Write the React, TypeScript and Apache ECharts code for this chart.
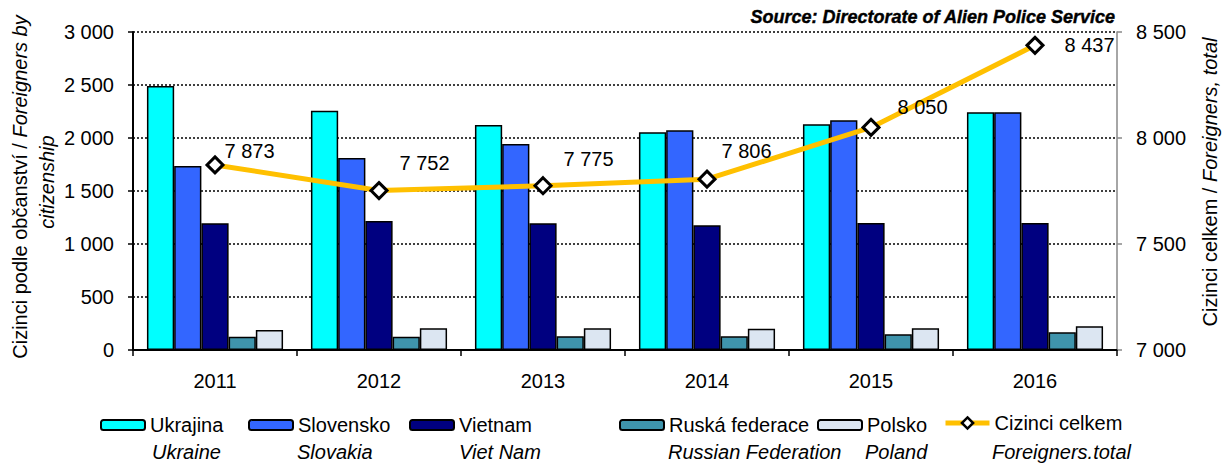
import React, { useEffect, useRef } from "react";
import * as echarts from "echarts";

const years = ["2011", "2012", "2013", "2014", "2015", "2016"];
const ukrajina = [2491, 2258, 2123, 2054, 2129, 2242];
const slovensko = [1736, 1811, 1943, 2073, 2167, 2242];
const vietnam = [1195, 1217, 1195, 1176, 1198, 1198];
const ruska = [126, 126, 130, 129, 148, 167];
const polsko = [189, 205, 205, 201, 205, 224];
const celkem = [7873, 7752, 7775, 7806, 8050, 8437];

const seriesNames = ["Ukrajina", "Slovensko", "Vietnam", "Ruská federace", "Polsko", "Cizinci celkem"];
const seriesNamesEn = ["Ukraine", "Slovakia", "Viet Nam", "Russian Federation", "Poland", "Foreigners.total"];
const leftTicks = [0, 500, 1000, 1500, 2000, 2500, 3000];
const rightTicks = [7000, 7500, 8000, 8500];

// styles / layout (not data)
const barColors = ["#00FFFF", "#3366FF", "#000080", "#3F94AC", "#DCE6F2"];
const lineColor = "#FFC000";
const labelOffsets = [
  [-5, -14],
  [6, -28],
  [6, -27],
  [0, -28],
  [12, -20],
  [15, 0],
];
const legendIconX = [100, 248, 409, 619, 817, 943];
const legendTextX = [152, 297, 459, 668, 865, 992];

const FONT = "Liberation Sans, Arial, sans-serif";
const FS = 20;

const fmt = (v: number) => {
  const s = String(Math.round(v));
  return s.replace(/\B(?=(\d{3})+(?!\d))/g, " ");
};

export default function App() {
  const ref = useRef<HTMLDivElement>(null);
  useEffect(() => {
    if (!ref.current) return;
    const chart = echarts.init(ref.current, null, { renderer: "svg" });
    const barData = [ukrajina, slovensko, vietnam, ruska, polsko];

    const barSeries = barData.map((d, i) => ({
      name: seriesNames[i],
      type: "bar",
      yAxisIndex: 0,
      data: d,
      barGap: "0%",
      barCategoryGap: "17%",
      itemStyle: { color: barColors[i], borderColor: "#000", borderWidth: 1.5 },
    }));

    const lineSeries = {
      name: seriesNames[5],
      type: "line",
      yAxisIndex: 1,
      data: celkem.map((v, i) => ({
        value: v,
        label: { offset: labelOffsets[i] },
      })),
      z: 5,
      symbol: "diamond",
      symbolSize: 16,
      lineStyle: { color: lineColor, width: 5 },
      itemStyle: { color: "#fff", borderColor: "#000", borderWidth: 3 },
      label: {
        show: true,
        position: "right",
        distance: 5,
        color: "#000",
        fontFamily: FONT,
        fontSize: FS,
        formatter: (p: any) => fmt(p.value),
      },
    };

    const legends = seriesNames.map((n, i) => ({
      data: [n],
      left: legendIconX[i],
      top: i < 5 ? 415 : 413,
      padding: 0,
      itemWidth: 44,
      itemHeight: i < 5 ? 10 : 14,
      itemGap: 5,
      textStyle: { fontFamily: FONT, fontSize: FS, color: "#000" },
      selectedMode: false,
      ...(i < 5
        ? { itemStyle: { borderColor: "#000", borderWidth: 2 } }
        : {
            lineStyle: { color: lineColor, width: 5 },
            itemStyle: { color: "#fff", borderColor: "#000", borderWidth: 2.5 },
          }),
    }));

    const graphics: any[] = [
      {
        type: "text",
        x: 1115,
        y: 17,
        style: {
          text: "Source: Directorate of Alien Police Service",
          fontFamily: FONT,
          fontSize: 18,
          fontWeight: "bold",
          fontStyle: "italic",
          fill: "#000",
          stroke: "#000",
          lineWidth: 0.4,
          align: "right",
          verticalAlign: "middle",
        },
      },
      {
        type: "text",
        x: 20,
        y: 187,
        rotation: Math.PI / 2,
        style: {
          text: "{r|Cizinci podle občanství / }{i|Foreigners by}",
          rich: {
            r: { fontFamily: FONT, fontSize: FS, fill: "#000" },
            i: { fontFamily: FONT, fontSize: FS, fontStyle: "italic", fill: "#000" },
          },
          align: "center",
          verticalAlign: "middle",
        },
      },
      {
        type: "text",
        x: 47,
        y: 182,
        rotation: Math.PI / 2,
        style: {
          text: "citizenship",
          fontFamily: FONT,
          fontSize: FS,
          fontStyle: "italic",
          fill: "#000",
          align: "center",
          verticalAlign: "middle",
        },
      },
      {
        type: "text",
        x: 1210,
        y: 182,
        rotation: Math.PI / 2,
        style: {
          text: "{r|Cizinci celkem / }{i|Foreigners, total}",
          rich: {
            r: { fontFamily: FONT, fontSize: FS, fill: "#000" },
            i: { fontFamily: FONT, fontSize: FS, fontStyle: "italic", fill: "#000" },
          },
          align: "center",
          verticalAlign: "middle",
        },
      },
      ...seriesNamesEn.map((t, i) => ({
        type: "text",
        x: legendTextX[i],
        y: 452,
        style: {
          text: t,
          fontFamily: FONT,
          fontSize: FS,
          fontStyle: "italic",
          fill: "#000",
          align: "left",
          verticalAlign: "middle",
        },
      })),
    ];

    chart.setOption({
      animation: false,
      backgroundColor: "#fff",
      textStyle: { fontFamily: FONT },
      grid: { left: 133, right: 111, top: 32, bottom: 113, containLabel: false },
      legend: legends,
      xAxis: {
        type: "category",
        data: years,
        axisLine: { lineStyle: { color: "#000", width: 2 } },
        axisTick: { show: true, length: 6, lineStyle: { color: "#000", width: 1.5 } },
        axisLabel: { color: "#000", fontFamily: FONT, fontSize: FS, margin: 21 },
      },
      yAxis: [
        {
          type: "value",
          min: leftTicks[0],
          max: leftTicks[leftTicks.length - 1],
          interval: 500,
          axisLine: { show: true, lineStyle: { color: "#000", width: 2 } },
          axisTick: { show: true, length: 5, lineStyle: { color: "#000", width: 1.5 } },
          axisLabel: {
            color: "#000",
            fontFamily: FONT,
            fontSize: FS,
            margin: 19,
            formatter: (v: number) => fmt(v),
          },
          splitLine: { show: true, lineStyle: { color: "#000", width: 1.5, type: [2, 2] } },
        },
        {
          type: "value",
          position: "right",
          min: rightTicks[0],
          max: rightTicks[rightTicks.length - 1],
          interval: 500,
          axisLine: { show: true, lineStyle: { color: "#888", width: 1.5 } },
          axisTick: { show: true, length: 5, lineStyle: { color: "#888", width: 1.5 } },
          axisLabel: {
            color: "#000",
            fontFamily: FONT,
            fontSize: FS,
            margin: 19,
            formatter: (v: number) => fmt(v),
          },
          splitLine: { show: false },
        },
      ],
      series: [...barSeries, lineSeries],
      graphic: graphics,
    });
    return () => chart.dispose();
  }, []);

  return (
    <div
      ref={ref}
      style={{ position: "fixed", left: 0, top: 0, width: 1228, height: 463 }}
    />
  );
}
